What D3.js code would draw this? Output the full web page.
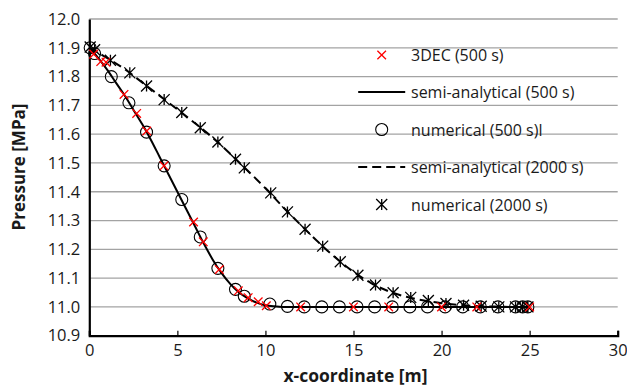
<!DOCTYPE html>
<html>
<head>
<meta charset="utf-8">
<script src="https://cdn.jsdelivr.net/npm/d3@7/dist/d3.min.js"></script>
<style>
  html, body { margin: 0; padding: 0; background: #fff; }
  svg { display: block; }
  text { font-family: "Open Sans", Lato, sans-serif; fill: #1a1a1a; }
</style>
</head>
<body>
<svg id="chart" width="627" height="389"></svg>
<script>
// x-coordinate [m] and pressure [MPa] for each series
const dec500 = [
  [0.25, 11.878], [0.65, 11.852], [0.95, 11.850], [1.97, 11.738], [2.69, 11.672],
  [3.26, 11.611], [4.24, 11.490], [5.92, 11.295], [6.47, 11.226], [7.38, 11.130],
  [8.46, 11.056], [9.02, 11.032], [9.59, 11.018], [10.05, 11.004], [12.0, 11.0],
  [15.0, 11.0], [17.0, 11.0], [20.0, 11.0], [22.0, 11.0], [25.0, 11.0]
];
const semi500 = [
  [0, 11.900], [0.5, 11.865], [1, 11.825], [1.5, 11.780], [2, 11.735], [2.5, 11.685],
  [3, 11.635], [3.5, 11.580], [4, 11.520], [4.5, 11.460], [5, 11.400], [5.5, 11.340],
  [6, 11.280], [6.5, 11.220], [7, 11.165], [7.5, 11.118], [8, 11.080], [8.5, 11.050],
  [9, 11.030], [9.5, 11.015], [10, 11.006], [10.5, 11.002], [11, 11.0], [12, 11.0],
  [14, 11.0], [16, 11.0], [18, 11.0], [20, 11.0], [22, 11.0], [24, 11.0], [24.9, 11.0]
];
const num500 = [
  [0.05, 11.900], [0.3, 11.880], [1.25, 11.800], [2.25, 11.709], [3.25, 11.607],
  [4.25, 11.490], [5.25, 11.373], [6.3, 11.243], [7.3, 11.134], [8.3, 11.061],
  [8.8, 11.037], [10.25, 11.010], [11.25, 11.002], [12.2, 11.0], [13.2, 11.0],
  [14.2, 11.0], [15.2, 11.0], [16.2, 11.0], [17.2, 11.0], [18.2, 11.0], [19.2, 11.0],
  [20.2, 11.0], [21.2, 11.0], [22.2, 11.0], [23.2, 11.0], [24.2, 11.0], [24.6, 11.0],
  [24.9, 11.0]
];
const semi2000 = [
  [0, 11.900], [1, 11.865], [2, 11.826], [3, 11.780], [4, 11.733], [5, 11.686],
  [6, 11.638], [7, 11.588], [8, 11.532], [9, 11.473], [10, 11.412], [11, 11.347],
  [12, 11.285], [13, 11.225], [14, 11.170], [15, 11.122], [16, 11.083], [17, 11.054],
  [18, 11.035], [19, 11.022], [20, 11.013], [21, 11.007], [22, 11.003], [23, 11.001],
  [24, 11.0], [24.9, 11.0]
];
const num2000 = [
  [0.05, 11.903], [0.3, 11.893], [1.2, 11.857], [2.3, 11.813], [3.25, 11.767],
  [4.25, 11.720], [5.25, 11.675], [6.3, 11.622], [7.3, 11.573], [8.3, 11.513],
  [8.8, 11.483], [10.3, 11.396], [11.25, 11.330], [12.25, 11.270], [13.25, 11.211],
  [14.25, 11.157], [15.25, 11.110], [16.25, 11.076], [17.25, 11.049], [18.25, 11.033],
  [19.25, 11.022], [20.25, 11.012], [21.25, 11.006], [22.25, 11.002], [23.25, 11.0],
  [24.2, 11.0], [24.6, 11.0], [24.9, 11.0]
];
const xTicks = [0, 5, 10, 15, 20, 25, 30];
const yTicks = [10.9, 11.0, 11.1, 11.2, 11.3, 11.4, 11.5, 11.6, 11.7, 11.8, 11.9, 12.0];
const legendLabels = [
  "3DEC (500 s)", "semi-analytical (500 s)", "numerical (500 s)l",
  "semi-analytical (2000 s)", "numerical (2000 s)"
];

const svg = d3.select("#chart");
const x = d3.scaleLinear().domain([0, 30]).range([89.3, 617.7]);
const y = d3.scaleLinear().domain([10.9, 12.0]).range([335.7, 19]);

// horizontal gridlines
svg.append("g").selectAll("line")
  .data(yTicks.slice(1))
  .join("line")
  .attr("x1", x(0)).attr("x2", x(30))
  .attr("y1", d => y(d)).attr("y2", d => y(d))
  .attr("stroke", "#a3a3a3").attr("stroke-width", 1.3);

// axes
const xAxis = svg.append("g")
  .attr("transform", `translate(0,${y(10.9)})`)
  .call(d3.axisBottom(x).tickValues(xTicks).tickFormat(d3.format("d")).tickSize(-5).tickPadding(8.5));
xAxis.select(".domain").attr("stroke", "#000").attr("stroke-width", 2.2);
xAxis.selectAll(".tick line").attr("stroke", "#000").attr("stroke-width", 1.2);
xAxis.selectAll("text").style("font-size", "16.5px").attr("fill", "#1a1a1a");

const yAxis = svg.append("g")
  .attr("transform", `translate(${x(0)},0)`)
  .call(d3.axisLeft(y).tickValues(yTicks).tickFormat(d3.format(".1f")).tickSize(0).tickPadding(9));
yAxis.select(".domain").attr("stroke", "#000").attr("stroke-width", 2.2);
yAxis.selectAll("text").style("font-size", "16.5px").attr("fill", "#1a1a1a");

// axis titles
svg.append("text")
  .attr("x", x(15) + 2).attr("y", 382)
  .attr("text-anchor", "middle")
  .style("font-size", "17.5px").style("font-weight", "bold")
  .text("x-coordinate [m]");
svg.append("text")
  .attr("transform", `translate(25,${167}) rotate(-90)`)
  .attr("text-anchor", "middle")
  .style("font-size", "17px").style("font-weight", "bold")
  .text("Pressure [MPa]");

const line = d3.line().x(d => x(d[0])).y(d => y(d[1])).curve(d3.curveMonotoneX);

// analytical curves
svg.append("path").datum(semi500).attr("d", line)
  .attr("fill", "none").attr("stroke", "#000").attr("stroke-width", 2);
svg.append("path").datum(semi2000).attr("d", line)
  .attr("fill", "none").attr("stroke", "#000").attr("stroke-width", 2)
  .attr("stroke-dasharray", "9,5");

// marker shapes
function circleMark(g) {
  g.append("circle").attr("r", 6).attr("fill", "none").attr("stroke", "#000").attr("stroke-width", 1.1);
}
function starMark(g) {
  const s = 5.5;
  g.append("path")
    .attr("d", `M${-s},${-s}L${s},${s}M${-s},${s}L${s},${-s}M0,${-s}L0,${s}`)
    .attr("stroke", "#000").attr("stroke-width", 1.3).attr("fill", "none");
}
function crossMark(g) {
  const s = 4.3;
  g.append("path")
    .attr("d", `M${-s},${-s}L${s},${s}M${-s},${s}L${s},${-s}`)
    .attr("stroke", "#ff0000").attr("stroke-width", 1.3).attr("fill", "none");
}

function drawMarkers(data, fn) {
  svg.append("g").selectAll("g")
    .data(data)
    .join("g")
    .attr("transform", d => `translate(${x(d[0])},${y(d[1])})`)
    .each(function () { fn(d3.select(this)); });
}
drawMarkers(num500, circleMark);
drawMarkers(num2000, starMark);
drawMarkers(dec500, crossMark);

// legend
const legendRowsY = [55, 92, 129.5, 167, 204.5];
const lg = svg.append("g");
legendLabels.forEach((label, i) => {
  const cy = legendRowsY[i];
  const g = lg.append("g").attr("transform", `translate(381.7,${cy})`);
  if (i === 0) crossMark(g);
  if (i === 2) circleMark(g);
  if (i === 4) starMark(g);
  if (i === 1 || i === 3) {
    g.append("line").attr("x1", -23.5).attr("x2", 23.5)
      .attr("stroke", "#000").attr("stroke-width", 2)
      .attr("stroke-dasharray", i === 3 ? "9,5" : null);
  }
  lg.append("text")
    .attr("x", 411).attr("y", cy + 6)
    .style("font-size", "16px")
    .text(label);
});
</script>
</body>
</html>
